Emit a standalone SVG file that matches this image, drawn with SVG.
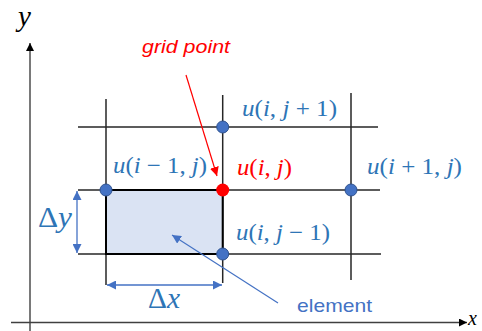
<svg xmlns="http://www.w3.org/2000/svg" width="482" height="331" viewBox="0 0 482 331">
<style>
.grid{stroke:#262626;stroke-width:1.5;fill:none}
.axis{stroke:#404040;stroke-width:1.4;fill:none}
.pt{fill:#4472C4;stroke:#2F528F;stroke-width:1}
.red{fill:#FF0000}
.math{font-family:"Liberation Serif","DejaVu Serif",serif;font-size:23px;fill:#2E75B6}
.it{font-style:italic}
.dim{stroke:#4472C4;stroke-width:1.3;fill:none}
.big{font-family:"Liberation Serif","DejaVu Serif",serif;font-size:29px;fill:#2E75B6}
.ax{font-family:"Liberation Serif","DejaVu Serif",serif;font-size:29px;font-style:italic;fill:#000}
</style>
<defs>
<marker id="ah" viewBox="0 0 10 10" refX="10" refY="5" markerWidth="8" markerHeight="8" markerUnits="userSpaceOnUse" orient="auto-start-reverse"><path d="M0,0 L10,5 L0,10 Z" fill="#000"/></marker>
<marker id="bh" viewBox="0 0 10 10" refX="10" refY="5" markerWidth="9" markerHeight="9" markerUnits="userSpaceOnUse" orient="auto-start-reverse"><path d="M0,0 L10,5 L0,10 Z" fill="#4472C4"/></marker>
<marker id="rh" viewBox="0 0 10 10" refX="10" refY="5" markerWidth="9" markerHeight="9" markerUnits="userSpaceOnUse" orient="auto"><path d="M0,0 L10,5 L0,10 Z" fill="#FF0000"/></marker>
</defs>
<rect width="482" height="331" fill="#fff"/>
<g id="axes">
<line class="axis" x1="30" y1="331" x2="30" y2="43" marker-end="url(#ah)"/>
<line class="axis" x1="11" y1="322.5" x2="467" y2="322.5" marker-end="url(#ah)"/>
<text class="ax" x="18" y="26">y</text>
<text class="ax" x="468" y="325" style="font-size:20px">x</text>
</g>
<g id="grid">
<line class="grid" x1="78" y1="127" x2="378" y2="127"/>
<line class="grid" x1="78" y1="190" x2="380" y2="190"/>
<line class="grid" x1="78" y1="254" x2="381" y2="254"/>
<line class="grid" x1="106" y1="99" x2="106" y2="285"/>
<line class="grid" x1="222.7" y1="95" x2="222.7" y2="283"/>
<line class="grid" x1="351" y1="93" x2="351" y2="280"/>
</g>
<g id="element">
<rect x="106" y="190" width="116.7" height="64" fill="#DAE3F3" stroke="#000" stroke-width="2"/>
<text x="297" y="312" font-family="'Liberation Sans',Arial,sans-serif" font-size="19" fill="#4472C4" textLength="75" lengthAdjust="spacingAndGlyphs">element</text>
</g>
<g id="node-im1-j">
<circle class="pt" cx="106" cy="190" r="6"/>
<text class="math" x="113" y="173" textLength="94" lengthAdjust="spacingAndGlyphs"><tspan class="it">u</tspan>(<tspan class="it">i</tspan> − 1, <tspan class="it">j</tspan>)</text>
</g>
<g id="node-i-jp1">
<circle class="pt" cx="222.7" cy="127" r="6"/>
<text class="math" x="242" y="116" textLength="95" lengthAdjust="spacingAndGlyphs"><tspan class="it">u</tspan>(<tspan class="it">i</tspan>, <tspan class="it">j</tspan> + 1)</text>
</g>
<g id="node-ip1-j">
<circle class="pt" cx="351" cy="190" r="6"/>
<text class="math" x="367" y="174" textLength="95" lengthAdjust="spacingAndGlyphs"><tspan class="it">u</tspan>(<tspan class="it">i</tspan> + 1, <tspan class="it">j</tspan>)</text>
</g>
<g id="node-i-jm1">
<circle class="pt" cx="222.7" cy="254" r="6"/>
<text class="math" x="236" y="240" textLength="94" lengthAdjust="spacingAndGlyphs"><tspan class="it">u</tspan>(<tspan class="it">i</tspan>, <tspan class="it">j</tspan> − 1)</text>
</g>
<g id="node-i-j">
<circle class="red" cx="222.7" cy="190" r="6.5"/>
<text class="math" x="237" y="175" style="fill:#FF0000" textLength="55" lengthAdjust="spacingAndGlyphs"><tspan class="it">u</tspan>(<tspan class="it">i</tspan>, <tspan class="it">j</tspan>)</text>
</g>
<g id="grid-point-label">
<text x="142" y="53" font-family="'Liberation Sans',Arial,sans-serif" font-size="19" font-style="italic" fill="#FF0000" textLength="88" lengthAdjust="spacingAndGlyphs">grid point</text>
</g>
<g id="connectors">
<line x1="186" y1="75" x2="217" y2="176" stroke="#FF0000" stroke-width="1.2" marker-end="url(#rh)"/>
<line x1="278" y1="303" x2="172" y2="235" stroke="#4472C4" stroke-width="1.2" marker-end="url(#bh)"/>
<line class="dim" x1="77" y1="191" x2="77" y2="253" marker-start="url(#bh)" marker-end="url(#bh)"/>
<line class="dim" x1="107" y1="285" x2="222" y2="285" marker-start="url(#bh)" marker-end="url(#bh)"/>
</g>
<g id="dims">
<text class="big" x="38" y="227" textLength="34" lengthAdjust="spacingAndGlyphs">Δ<tspan class="it">y</tspan></text>
<text class="big" x="148" y="308" textLength="32" lengthAdjust="spacingAndGlyphs">Δ<tspan class="it">x</tspan></text>
</g>
</svg>
